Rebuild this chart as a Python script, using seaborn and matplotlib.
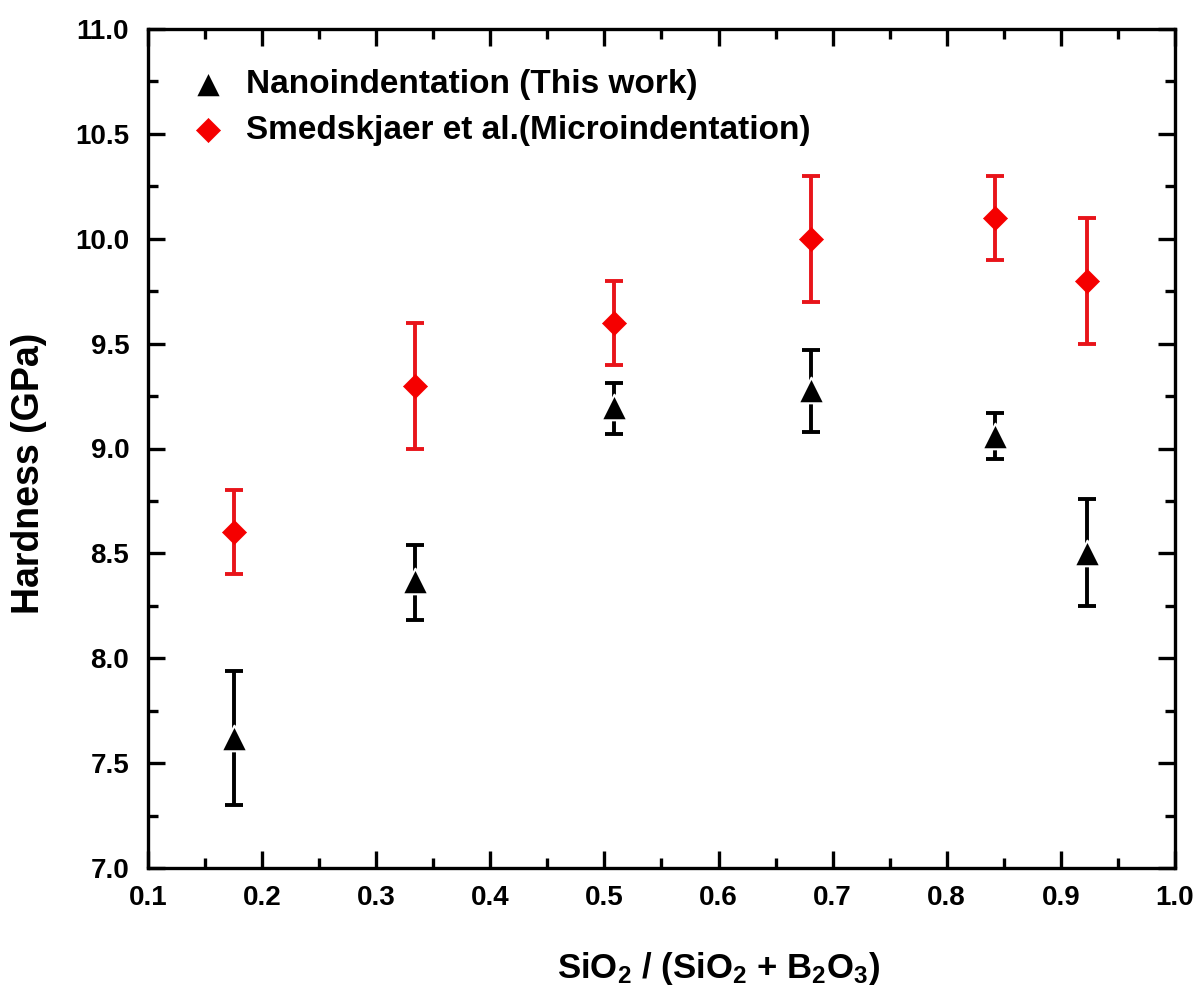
import numpy as np
import pandas as pd
import seaborn as sns
import matplotlib.pyplot as plt
from matplotlib.ticker import MultipleLocator

# data
ratio_nano = [0.175, 0.334, 0.508, 0.681, 0.842, 0.923]
hard_nano = [7.62, 8.37, 9.20, 9.28, 9.06, 8.50]
err_nano_lo = [0.32, 0.19, 0.13, 0.20, 0.11, 0.25]
err_nano_hi = [0.32, 0.17, 0.11, 0.19, 0.11, 0.26]

ratio_micro = [0.175, 0.334, 0.508, 0.681, 0.842, 0.923]
hard_micro = [8.6, 9.3, 9.6, 10.0, 10.1, 9.8]
err_micro = [0.2, 0.3, 0.2, 0.3, 0.2, 0.3]

lab_nano = 'Nanoindentation (This work)'
lab_micro = 'Smedskjaer et al.(Microindentation)'

sns.set_style("ticks")
plt.rcParams['font.family'] = ['Liberation Sans', 'DejaVu Sans']
plt.rcParams['font.weight'] = 'bold'
plt.rcParams['mathtext.default'] = 'regular'
for k in ['text.color', 'axes.labelcolor', 'xtick.color', 'ytick.color', 'axes.edgecolor']:
    plt.rcParams[k] = 'black'

df_nano = pd.DataFrame({'x': ratio_nano, 'H': hard_nano})
df_micro = pd.DataFrame({'x': ratio_micro, 'H': hard_micro})

fig = plt.figure(figsize=(12.02, 10), dpi=100)
ax = fig.add_axes([0.1231, 0.132, 0.8544, 0.839])

# error bars first so the markers sit on top
ax.errorbar(ratio_micro, hard_micro, yerr=err_micro, fmt='none', ecolor='#e8141a',
            elinewidth=2.8, capsize=6.5, capthick=2.8, zorder=2)
ax.errorbar(ratio_nano, hard_nano, yerr=[err_nano_lo, err_nano_hi], fmt='none',
            ecolor='black', elinewidth=2.8, capsize=6.5, capthick=2.8, zorder=2)

sns.scatterplot(data=df_nano, x='x', y='H', marker='^', color='black', s=340,
                edgecolor='white', linewidth=1.5, label=lab_nano, ax=ax, zorder=3)
sns.scatterplot(data=df_micro, x='x', y='H', marker='D', color='#f50000', s=150,
                edgecolor='#f50000', linewidth=0.5, label=lab_micro, ax=ax, zorder=3)

ax.set_xlim(0.1, 1.0)
ax.set_ylim(7.0, 11.0)
ax.xaxis.set_minor_locator(MultipleLocator(0.05))
ax.yaxis.set_minor_locator(MultipleLocator(0.25))
xt = np.round(np.arange(0.1, 1.01, 0.1), 1)
yt = np.round(np.arange(7.0, 11.01, 0.5), 1)
ax.set_xticks(xt)
ax.set_xticklabels(['%.1f' % v for v in xt], fontsize=20, fontweight='bold')
ax.set_yticks(yt)
ax.set_yticklabels(['%.1f' % v for v in yt], fontsize=20, fontweight='bold')

for s in ax.spines.values():
    s.set_linewidth(2.4)
ax.tick_params(which='both', direction='in', top=True, right=True, width=2.4)
ax.tick_params(which='major', length=12)
ax.tick_params(axis='y', which='major', pad=13.5)
ax.tick_params(axis='x', which='major', pad=12)
ax.tick_params(which='minor', length=7)

ax.set_ylabel('Hardness (GPa)', fontsize=27, fontweight='bold')
ax.set_xlabel('SiO$_2$ / (SiO$_2$ + B$_2$O$_3$)', fontsize=25, fontweight='bold')
ax.yaxis.set_label_coords(-0.098, 0.47)
ax.xaxis.set_label_coords(0.556, -0.098)

ax.legend(loc='upper left', frameon=False, bbox_to_anchor=(0.005, 0.988),
          handlelength=1.5, handletextpad=0.4, labelspacing=0.45,
          prop={'weight': 'bold', 'size': 24})

plt.savefig('out.png', dpi=100)
